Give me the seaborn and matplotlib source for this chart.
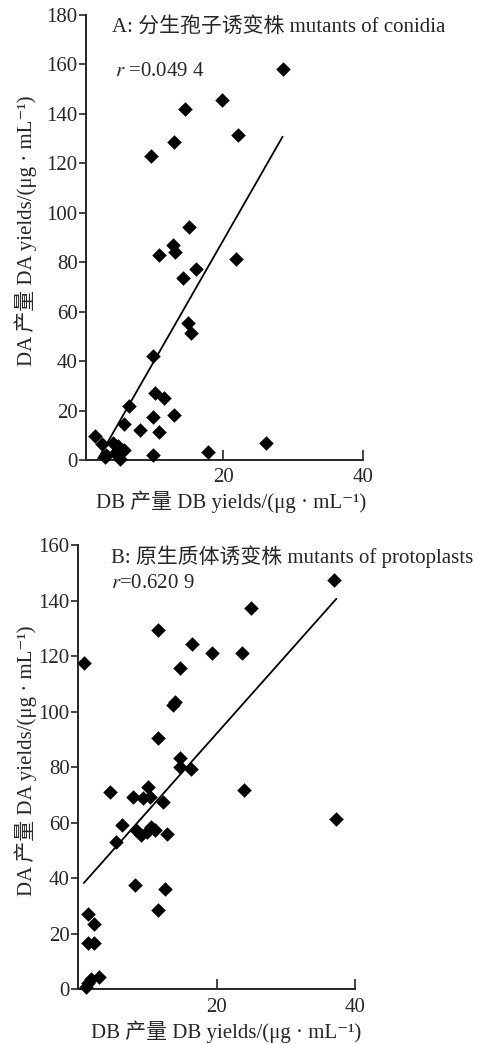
import numpy as np
import pandas as pd
import matplotlib
matplotlib.use("Agg")
import matplotlib.pyplot as plt
import seaborn as sns

# ---------------- data ----------------
# Panel A: mutants of conidia
a_db = [28.5, 19.8, 14.5, 22.1, 13.0, 9.7, 15.1, 12.8, 13.1, 10.8, 21.8, 16.1, 14.3,
        15.0, 15.4, 10.0, 10.3, 11.5, 13.0, 10.0, 6.6, 5.8, 8.1, 10.8,
        1.7, 2.7, 4.3, 5.0, 5.8, 3.3, 3.1, 5.3, 4.6, 10.0, 17.8, 26.2]
a_da = [158.2, 145.6, 142.0, 131.5, 128.8, 122.9, 94.3, 87.0, 84.0, 83.0, 81.2, 77.3, 73.5,
        55.3, 51.2, 42.1, 27.0, 25.0, 18.2, 17.5, 21.8, 14.6, 12.1, 11.5,
        9.6, 6.5, 6.8, 5.5, 4.0, 2.2, 1.3, 0.3, 3.0, 2.2, 3.1, 6.7]
a_fit_x = [2.1, 28.5]
a_fit_y = [0.3, 130.8]

# Panel B: mutants of protoplasts
b_db = [37.0, 25.0, 11.5, 16.5, 19.3, 23.7, 0.9, 14.8, 14.0, 13.7, 11.5, 14.8, 14.8, 16.3,
        10.1, 24.0, 4.6, 8.0, 9.4, 10.4, 12.3, 37.3, 6.3, 8.4, 9.1, 10.6, 9.9, 11.1, 12.8,
        5.5, 8.3, 12.5, 11.5, 1.4, 2.3, 1.4, 2.3, 3.1, 1.9, 1.5, 1.2]
b_da = [147.4, 137.2, 129.4, 124.2, 121.0, 121.0, 117.6, 115.8, 103.5, 102.5, 90.4, 83.4, 80.2, 79.2,
        72.8, 71.8, 71.0, 69.4, 68.8, 69.1, 67.6, 61.5, 59.2, 57.4, 55.6, 58.6, 56.8, 57.4, 56.0,
        53.2, 37.6, 36.2, 28.4, 27.2, 23.6, 16.8, 16.6, 4.5, 3.6, 2.2, 0.9]
b_fit_x = [0.85, 37.3]
b_fit_y = [38.3, 140.6]

a_title = "A: 分生孢子诱变株 mutants of conidia"
b_title = "B: 原生质体诱变株 mutants of protoplasts"
a_r = r"$r$ =0.049 4"
b_r = r"$r$=0.620 9"
xlab = "DB 产量 DB yields/(μg · mL⁻¹)"
ylab = "DA 产量 DA yields/(μg · mL⁻¹)"
a_yticks = [0, 20, 40, 60, 80, 100, 120, 140, 160, 180]
b_yticks = [0, 20, 40, 60, 80, 100, 120, 140, 160]
xticks = [20, 40]

# ---------------- style ----------------
sns.set_style("ticks")
plt.rcParams['font.family'] = ['Liberation Serif', 'Noto Sans CJK SC', 'DejaVu Sans']
plt.rcParams['mathtext.fontset'] = 'stix'
plt.rcParams['axes.linewidth'] = 1.4

fig = plt.figure(figsize=(4.89, 10.44), dpi=100)
ax1 = fig.add_axes([0.1759, 0.5594, 0.5665, 0.4262])
ax2 = fig.add_axes([0.1595, 0.0524, 0.5665, 0.4256])

panels = [
    (ax1, a_db, a_da, a_fit_x, a_fit_y, a_title, a_r, a_yticks, (0.4, 40), (0, 180),
     (0.094, 0.973), (0.105, 0.874), (0.525, -0.094), (-0.217, 0.515)),
    (ax2, b_db, b_da, b_fit_x, b_fit_y, b_title, b_r, b_yticks, (0, 40), (0, 160),
     (0.119, 0.973), (0.119, 0.914), (0.534, -0.096), (-0.190, 0.514)),
]

for (ax, xs, ys, fx, fy, title, rtxt, yt, xl, yl, tpos, rpos, xlpos, ylpos) in panels:
    df = pd.DataFrame({"db": xs, "da": ys})
    fit = pd.DataFrame({"x": fx, "y": fy})
    sns.lineplot(data=fit, x="x", y="y", ax=ax, color="black", linewidth=1.3)
    sns.scatterplot(data=df, x="db", y="da", ax=ax, marker="D", color="black",
                    s=55, linewidth=0, zorder=3, clip_on=False)
    ax.set_xlim(*xl)
    ax.set_ylim(*yl)
    ax.set_xticks(xticks)
    ax.set_yticks(yt)
    ax.tick_params(axis='y', direction='out', length=5, width=1.2, labelsize=15, pad=1)
    ax.tick_params(axis='x', direction='in', length=7, width=1.2, labelsize=15, pad=6)
    sns.despine(ax=ax)
    ax.set_xlabel(xlab, fontsize=15)
    ax.set_ylabel(ylab, fontsize=15)
    ax.xaxis.label.set_va('center')
    ax.yaxis.label.set_va('center')
    ax.xaxis.set_label_coords(*xlpos)
    ax.yaxis.set_label_coords(*ylpos)
    ax.text(tpos[0], tpos[1], title, transform=ax.transAxes, fontsize=15,
            ha='left', va='center')
    ax.text(rpos[0], rpos[1], rtxt, transform=ax.transAxes, fontsize=15,
            ha='left', va='center')

fig.savefig("out.png", dpi=100)
